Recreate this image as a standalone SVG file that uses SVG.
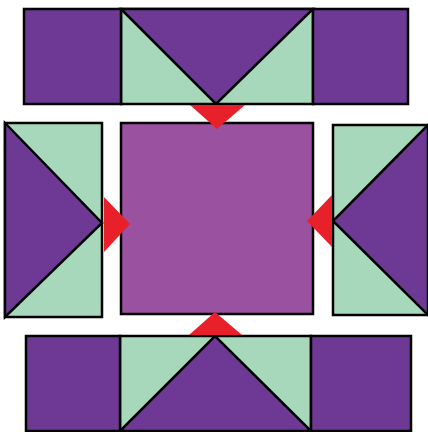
<svg xmlns="http://www.w3.org/2000/svg" width="428" height="432" viewBox="0 0 428 432">
<style>
.p{fill:#6e3895}
.g{fill:#a8d8bb}
.c{fill:#9a51a0}
.s{stroke:#000;stroke-width:2.5;stroke-linejoin:miter}
.r{fill:#e8202a}
</style>
<rect width="428" height="432" fill="#fff"/>
<g id="top">
<rect class="g s" x="121" y="9" width="192" height="95"/>
<polygon class="p s" points="121,9 216,104 313,9"/>
<rect class="p s" x="24" y="9" width="97" height="95"/>
<rect class="p s" x="313" y="9" width="95" height="95"/>
</g>
<g id="left">
<rect class="g s" x="5" y="123" width="97" height="194"/>
<polygon class="p s" points="5,123 102,223 5,317"/>
</g>
<g id="center">
<rect class="c s" x="121" y="123" width="192" height="191"/>
</g>
<g id="right">
<rect class="g s" x="333" y="125" width="100" height="190"/>
<polygon class="p s" points="428,125 333,221 428,315"/>
</g>
<g id="bottom">
<rect class="g s" x="120" y="336" width="191" height="95"/>
<polygon class="p s" points="120,431 215,336 311,431"/>
<rect class="p s" x="26" y="336" width="94" height="95"/>
<rect class="p s" x="311" y="336" width="100" height="95"/>
</g>
<g id="connectors">
<polygon class="r" points="190,105 245,105 217,129"/>
<polygon class="r" points="104,197 104,252 130,224"/>
<polygon class="r" points="332,195 332,247 307,221"/>
<polygon class="r" points="189,335 242,335 215,312"/>
</g>
</svg>
